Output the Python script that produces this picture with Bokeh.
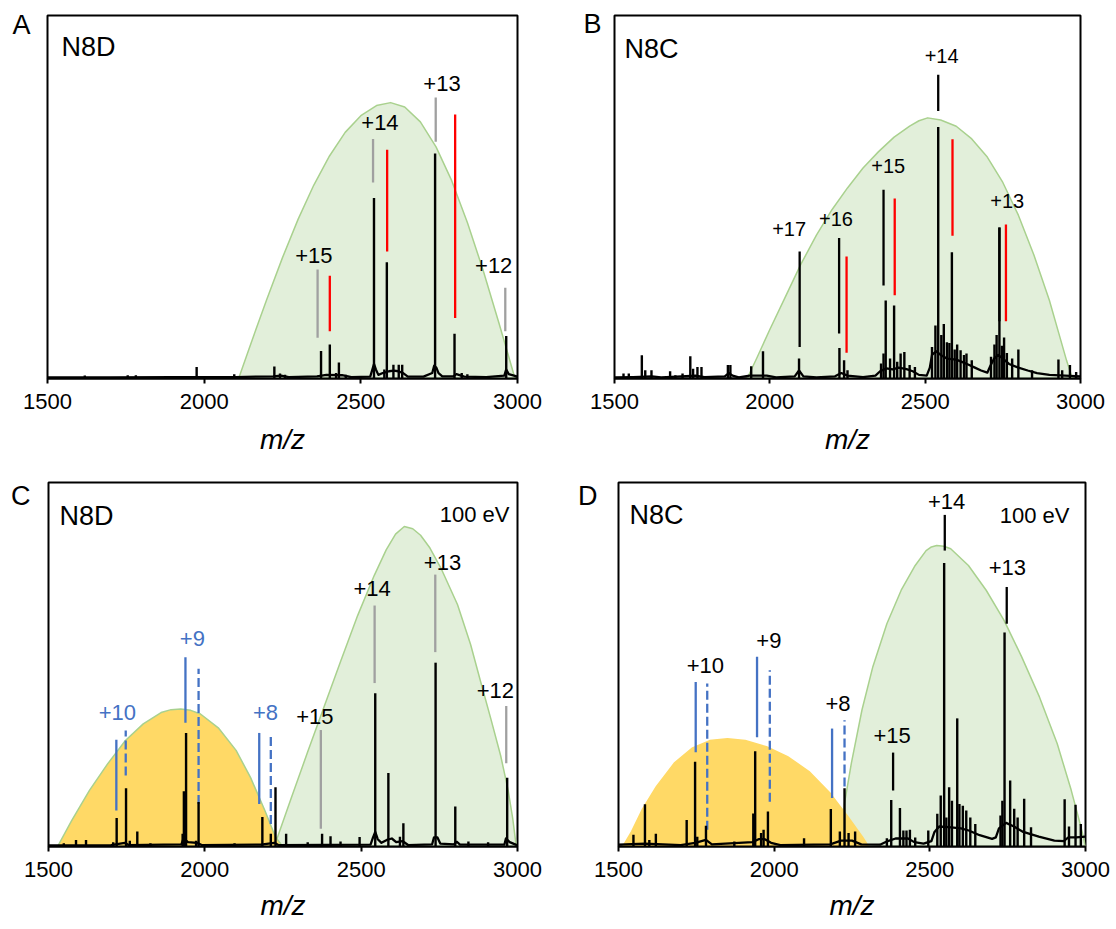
from bokeh.plotting import figure
from bokeh.models import Range1d, FixedTicker, Label
from bokeh.layouts import row, column
from bokeh.core.properties import value
from bokeh.embed import file_html
from bokeh.resources import INLINE

FONT = "Liberation Sans"
X_TICKS = [1500, 2000, 2500, 3000]
X_LABEL = "m/z"

GREEN_FILL = "#E2EFDA"
GREEN_LINE = "#A9D18E"
YELLOW_FILL = "#FFD966"
GRAY = "#A0A0A0"
RED = "#FF0000"
BLUE = "#4472C4"

# ---------------- Panel A : N8D ----------------
A_env_mz = [2110, 2140, 2170, 2200, 2250, 2300, 2350, 2400, 2450, 2500, 2550, 2595, 2640, 2690, 2740, 2790, 2840, 2890, 2940, 2970, 2992]
A_env_y = [0, 7.4, 14.7, 21.8, 33.3, 43.9, 53.3, 61.3, 67.8, 72.4, 75.2, 76, 74.8, 70.7, 63.8, 54.5, 43.0, 29.9, 15.5, 6.6, 0]
A_base_mz = [1500, 1700, 1900, 2100, 2220, 2245, 2270, 2360, 2390, 2440, 2470, 2530, 2537, 2542, 2548, 2556, 2570, 2590, 2605, 2620, 2635, 2650, 2700, 2728, 2734, 2741, 2748, 2760, 2795, 2805, 2830, 2900, 2958, 2964, 2972, 3000]
A_base_y = [0.3, 0.3, 0.4, 0.4, 0.6, 0.8, 0.4, 0.6, 1.0, 0.9, 0.4, 0.5, 2.5, 4.0, 2.5, 1.0, 1.5, 2.0, 2.2, 2.0, 1.5, 0.5, 0.5, 1.5, 3.5, 3.0, 1.5, 0.6, 0.6, 1.2, 0.5, 0.4, 0.8, 2.5, 1.2, 0.5]
A_peak_mz = [1619, 1756, 1782, 1876, 1976, 2096, 2224, 2242, 2258, 2373, 2401, 2421, 2430, 2452, 2542, 2575, 2583, 2604, 2621, 2632, 2737, 2799, 2822, 2840, 2964]
A_peak_h = [0.8, 0.9, 0.9, 0.6, 3.2, 1.2, 3.3, 1.4, 1.0, 7.6, 9.4, 1.5, 4.4, 1.0, 49.7, 2.5, 32.0, 3.8, 3.8, 3.8, 62.0, 12.3, 1.5, 1.2, 11.7]
A_gray_mz = [2362, 2539, 2739, 2961]
A_gray_top = [30, 66, 77.4, 25]
A_gray_bot = [11.2, 54, 65.2, 13]
A_red_mz = [2401, 2584, 2801]
A_red_top = [28.3, 63, 72.7]
A_red_bot = [13, 35, 16.7]
A_lab_mz = [2350, 2561, 2759, 2924]
A_lab_y = [34, 70.6, 81.4, 31.2]
A_lab_text = ["+15", "+14", "+13", "+12"]

# ---------------- Panel B : N8C ----------------
B_env_mz = [1927, 1960, 2000, 2050, 2100, 2150, 2200, 2250, 2300, 2350, 2400, 2450, 2480, 2508, 2550, 2600, 2650, 2700, 2750, 2800, 2850, 2900, 2930, 2955, 2972, 2978]
B_env_y = [0, 6, 13.5, 22.5, 31.5, 39.5, 46.5, 52.5, 58, 62.5, 66.5, 69.5, 71, 71.8, 71.2, 69.5, 66, 61, 54, 45, 34, 21.5, 12.5, 5, 0.5, 0]
B_base_mz = [1500, 1560, 1620, 1650, 1700, 1760, 1790, 1855, 1868, 1880, 1900, 1935, 1990, 2020, 2080, 2094, 2108, 2150, 2210, 2230, 2250, 2300, 2340, 2355, 2375, 2395, 2415, 2440, 2460, 2480, 2505, 2515, 2522, 2535, 2550, 2570, 2600, 2620, 2640, 2660, 2680, 2700, 2710, 2722, 2735, 2750, 2770, 2800, 2830, 2860, 2900, 2950, 3000]
B_base_y = [0.3, 0.4, 0.6, 0.3, 0.5, 0.8, 0.4, 0.6, 1.5, 0.8, 0.3, 0.8, 0.8, 0.3, 0.6, 2.2, 0.6, 0.3, 0.6, 1.5, 0.8, 0.4, 0.8, 2.0, 2.8, 2.5, 3.0, 2.6, 2.0, 1.0, 0.8, 3.0, 6.5, 7.5, 6.5, 5.5, 5.2, 4.5, 3.8, 3.0, 2.2, 1.6, 3.5, 5.5, 6.5, 5.5, 4.0, 3.0, 2.2, 1.5, 1.0, 0.8, 0.6]
B_peak_mz = [1529, 1546, 1588, 1599, 1619, 1679, 1696, 1719, 1744, 1753, 1767, 1780, 1865, 1873, 1940, 1978, 2094, 2224, 2239, 2250, 2358, 2366, 2373, 2387, 2400, 2410, 2421, 2433, 2450, 2467,
             2522, 2533, 2542, 2552, 2560, 2570, 2578, 2586, 2595, 2603, 2614, 2625, 2633, 2650,
             2712, 2723, 2730, 2739, 2747, 2754, 2763, 2780, 2800, 2844, 2929, 2941, 2966, 2986]
B_peak_h = [1.4, 1.4, 6.4, 2.3, 2.3, 2.0, 0.9, 1.4, 6.1, 2.7, 3.2, 3.2, 3.7, 3.7, 3.4, 7.5, 5.5, 8.4, 5.0, 2.3, 4.1, 6.9, 21.5, 5.5, 20.1, 4.6, 6.9, 7.3, 3.7, 3.2,
            8.7, 14.6, 69.3, 12.0, 15.0, 10.0, 9.8, 34.8, 8.0, 9.4, 7.8, 6.5, 6.9, 5.0,
            6.0, 9.4, 12.0, 41.6, 9.0, 11.3, 7.0, 5.5, 8.0, 2.3, 5.2, 2.3, 3.7, 1.8]
B_black_mz = [2096, 2223, 2366, 2542, 2739]
B_black_top = [35, 38.7, 52, 83.7, 41.6]
B_black_bot = [8.7, 12.4, 25.6, 73.7, 15.8]
B_red_mz = [2247, 2402, 2588, 2760]
B_red_top = [33.6, 49.6, 65.9, 42.4]
B_red_bot = [7.1, 22.9, 39.3, 15.8]
B_lab_mz = [2062, 2213, 2381, 2553, 2764]
B_lab_y = [41.2, 43.9, 58.6, 88.8, 49]
B_lab_text = ["+17", "+16", "+15", "+14", "+13"]

# ---------------- Panel C : N8D, 100 eV ----------------
C_yel_mz = [1529, 1574, 1631, 1689, 1746, 1803, 1860, 1892, 1923, 1955, 1986, 2043, 2100, 2146, 2192, 2226, 2249]
C_yel_y = [0, 7.1, 15.4, 22.7, 29.1, 33.7, 36.8, 37.6, 37.8, 37.4, 36.4, 32.6, 26.4, 19, 9.9, 2.6, 0]
C_env_mz = [2222, 2275, 2329, 2382, 2435, 2489, 2542, 2580, 2610, 2638, 2665, 2690, 2720, 2755, 2808, 2850, 2883, 2915, 2946, 2970, 2985, 2996]
C_env_y = [0, 13, 26, 38.5, 51, 63.5, 74.5, 81.5, 85.8, 87.9, 87.3, 85.5, 82, 76.5, 66.5, 55.5, 45, 35, 25, 15.5, 7.5, 0]
C_base_mz = [1500, 1700, 1744, 1756, 1925, 1932, 1946, 1975, 1990, 2180, 2222, 2235, 2530, 2538, 2545, 2553, 2565, 2582, 2598, 2612, 2632, 2650, 2727, 2733, 2744, 2753, 2796, 2806, 2816, 2958, 2963, 2975, 3000]
C_base_y = [0.3, 0.4, 1.0, 0.4, 0.6, 2.2, 1.2, 1.0, 0.4, 0.5, 1.0, 0.4, 0.5, 2.5, 4.0, 2.0, 1.0, 1.8, 2.2, 1.2, 1.5, 0.4, 0.6, 2.5, 2.5, 0.8, 0.6, 1.3, 0.5, 0.5, 2.2, 1.2, 0.3]
C_peak_mz = [1549, 1588, 1620, 1707, 1718, 1748, 1760, 1784, 1826, 1929, 1933, 1940, 1972, 1980, 2095, 2184, 2211, 2226, 2260, 2329, 2375, 2402, 2434, 2495, 2545, 2587, 2624, 2635, 2738, 2801, 2843, 2906, 2967]
C_peak_h = [0.9, 1.8, 1.8, 1.2, 7.8, 16.0, 1.6, 4.1, 0.9, 3.5, 15.2, 31.2, 1.6, 12.2, 0.9, 8.1, 3.5, 16.3, 3.5, 1.2, 3.5, 2.8, 1.4, 2.6, 42.1, 20.2, 2.7, 6.4, 50.5, 11.0, 1.4, 1.2, 18.9]
C_blue_mz = [1717, 1938, 2174]
C_blue_top = [29.3, 52, 31.2]
C_blue_bot = [9.9, 34, 11.7]
C_dash_mz = [1747, 1980, 2211]
C_dash_top = [31.9, 48.8, 31.2]
C_dash_bot = [19.5, 11.7, 6.2]
C_gray_mz = [2371, 2543, 2737, 2964]
C_gray_top = [32, 66.2, 74.7, 38.6]
C_gray_bot = [4.9, 44.9, 53.4, 22.9]
C_blab_mz = [1720, 1960, 2194]
C_blab_y = [36.7, 57.2, 36.9]
C_blab_text = ["+10", "+9", "+8"]
C_lab_mz = [2352, 2535, 2760, 2929]
C_lab_y = [35.8, 70.8, 77.9, 42.9]
C_lab_text = ["+15", "+14", "+13", "+12"]

# ---------------- Panel D : N8C, 100 eV ----------------
D_yel_mz = [1514, 1542, 1576, 1622, 1679, 1736, 1793, 1850, 1907, 1975, 2043, 2112, 2180, 2237, 2283, 2303]
D_yel_y = [0, 4.1, 10.1, 16.5, 22.9, 27, 29.1, 29.6, 29.1, 27.4, 24.7, 20.6, 14.6, 8.2, 2.7, 0]
D_env_mz = [2214, 2226, 2248, 2282, 2317, 2362, 2408, 2453, 2488, 2505, 2522, 2545, 2567, 2624, 2681, 2738, 2795, 2852, 2909, 2954, 2985, 3000]
D_env_y = [0, 11.9, 22.9, 37.5, 49.4, 61.2, 70.4, 77.2, 81.3, 82.3, 82.7, 82.5, 81.8, 77.2, 70.4, 62.2, 52.1, 41.1, 28.3, 15.5, 5.5, 0]
D_base_mz = [1500, 1585, 1700, 1746, 1781, 1800, 1930, 1950, 1970, 1990, 2020, 2180, 2215, 2250, 2280, 2340, 2365, 2390, 2430, 2450, 2480, 2505, 2515, 2530, 2560, 2600, 2625, 2660, 2700, 2712, 2722, 2745, 2770, 2800, 2850, 2900, 2930, 2945, 2970, 3000]
D_base_y = [0.5, 0.8, 0.4, 1.0, 1.8, 0.6, 1.2, 2.0, 2.0, 1.0, 0.4, 0.6, 1.6, 1.6, 0.6, 0.5, 1.5, 2.2, 2.2, 1.2, 0.8, 1.5, 4.0, 5.5, 5.3, 5.0, 4.4, 3.1, 2.1, 2.5, 5.0, 6.5, 5.5, 4.0, 2.7, 1.6, 1.5, 2.5, 2.5, 2.7]
D_peak_mz = [1548, 1585, 1599, 1620, 1719, 1746, 1753, 1781, 1872, 1933, 1939, 1958, 1966, 1980, 2096, 2182, 2211, 2226, 2239, 2260, 2362, 2376, 2404, 2415, 2425, 2436, 2453, 2495,
             2524, 2535, 2546, 2553, 2562, 2571, 2588, 2595, 2606, 2617, 2630, 2646,
             2727, 2733, 2740, 2758, 2771, 2782, 2803, 2825, 2933, 2947, 2968, 2985]
D_peak_h = [3.2, 11.6, 1.8, 3.5, 7.3, 23.3, 2.7, 5.7, 1.4, 9.1, 26.2, 3.7, 4.6, 9.6, 2.3, 10.3, 4.1, 16.0, 3.7, 4.1, 2.3, 12.8, 10.6, 4.4, 4.4, 4.6, 2.5, 4.4,
            9.0, 14.0, 77.9, 8.0, 16.3, 12.6, 35.2, 11.7, 11.2, 9.9, 8.0, 6.2,
            8.5, 12.6, 58.8, 18.1, 10.4, 8.0, 13.1, 5.3, 13.0, 5.5, 11.5, 6.2]
D_blue_mz = [1748, 1945, 2186]
D_blue_top = [45.2, 52.1, 32.4]
D_blue_bot = [25.9, 30.0, 13.3]
D_dash_mz = [1785, 1986, 2226]
D_dash_top = [44.8, 48.4, 34.7]
D_dash_bot = [4.6, 12.3, 16.5]
D_black_mz = [2382, 2548, 2747]
D_black_top = [25.8, 91.1, 71.3]
D_black_bot = [15.4, 81.3, 61.2]
D_lab_mz = [1779, 1983, 2205, 2379, 2554, 2749]
D_lab_y = [49.8, 56.7, 39.3, 30.6, 94.9, 76.6]
D_lab_text = ["+10", "+9", "+8", "+15", "+14", "+13"]

PANEL_LETTERS = ["A", "B", "C", "D"]
PANEL_NAMES = ["N8D", "N8C", "N8D", "N8C"]
ENERGY = "100 eV"


def make_fig(w, h, bl, br, bt, bb, letter, letter_y, letter_gap, label_gap):
    p = figure(width=w, height=h, x_range=Range1d(1500, 3000), y_range=Range1d(0, 100),
               output_backend="svg", toolbar_location=None, title=None,
               min_border_left=bl, min_border_right=br, min_border_top=bt, min_border_bottom=bb)
    p.xgrid.visible = False
    p.ygrid.visible = False
    p.outline_line_color = "black"
    p.outline_line_width = 2
    p.outline_line_alpha = 1
    p.background_fill_color = "white"
    p.border_fill_color = "white"
    ax = p.xaxis[0]
    ax.ticker = FixedTicker(ticks=X_TICKS)
    ax.axis_line_width = 2
    ax.axis_line_color = "black"
    ax.major_tick_line_width = 2
    ax.major_tick_line_color = "black"
    ax.major_tick_in = 0
    ax.major_tick_out = 5
    ax.minor_tick_line_color = None
    ax.major_label_text_font = FONT
    ax.major_label_text_font_size = "22px"
    ax.major_label_text_color = "black"
    ax.major_label_standoff = 10
    ax.axis_label = X_LABEL
    ax.axis_label_text_font = FONT
    ax.axis_label_text_font_style = "italic"
    ax.axis_label_text_font_size = "28px"
    ax.axis_label_text_color = "black"
    ax.axis_label_standoff = label_gap
    # the panel letter is shown as the single tick label of an otherwise hidden y axis
    yax = p.yaxis[0]
    yax.ticker = FixedTicker(ticks=[letter_y])
    yax.major_label_overrides = {letter_y: letter}
    yax.axis_line_color = None
    yax.major_tick_line_color = None
    yax.minor_tick_line_color = None
    yax.major_tick_in = 0
    yax.major_tick_out = 0
    yax.major_label_standoff = letter_gap
    yax.major_label_text_font = FONT
    yax.major_label_text_font_size = "27px"
    yax.major_label_text_color = "black"
    frame = {"fw": w - bl - br, "fh": h - bt - bb}
    return p, frame


def px_x(fr, px):
    return 1500 + px * 1500.0 / fr["fw"]


def px_y(fr, px):
    return 100 - px * 100.0 / fr["fh"]


def add_env(p, mz, y, fill, line):
    p.patch(mz, y, fill_color=fill, line_color=line, line_width=1.5, line_join="round")


def add_marks(p, mz, top, bot, color, dash="solid"):
    p.segment(x0=mz, y0=bot, x1=mz, y1=top, line_color=color, line_width=2.3, line_dash=dash)


def add_spectrum(p, bmz, by, pmz, ph):
    p.line(bmz, by, line_color="black", line_width=2.3, line_join="round")
    p.segment(x0=pmz, y0=[0] * len(pmz), x1=pmz, y1=ph, line_color="black", line_width=2.4)


def add_labels(p, mz, y, txt, color="black", size="22px"):
    p.text(x=mz, y=y, text=txt, text_align="center", text_baseline="middle",
           text_font=value(FONT), text_font_size=size, text_color=color)


def add_corner(p, fr, name, nx, nby, energy=None, ex=None, eby=None):
    p.add_layout(Label(x=px_x(fr, nx), y=px_y(fr, nby), text=name, text_font=FONT,
                       text_font_size="27px", text_align="left", text_baseline="alphabetic",
                       text_color="black"))
    if energy:
        p.add_layout(Label(x=px_x(fr, fr["fw"] - ex), y=px_y(fr, eby), text=energy, text_font=FONT,
                           text_font_size="22px", text_align="right", text_baseline="alphabetic",
                           text_color="black"))


# Panel A
pA, fA = make_fig(558, 465, 47, 41, 15, 84, PANEL_LETTERS[0], 97.5, 17, 12)
add_env(pA, A_env_mz, A_env_y, GREEN_FILL, GREEN_LINE)
add_marks(pA, A_gray_mz, A_gray_top, A_gray_bot, GRAY)
add_marks(pA, A_red_mz, A_red_top, A_red_bot, RED)
add_spectrum(pA, A_base_mz, A_base_y, A_peak_mz, A_peak_h)
add_labels(pA, A_lab_mz, A_lab_y, A_lab_text)
add_corner(pA, fA, PANEL_NAMES[0], 14, 32)

# Panel B
pB, fB = make_fig(558, 465, 56, 36, 14, 87, PANEL_LETTERS[1], 97.7, 13, 12)
add_env(pB, B_env_mz, B_env_y, GREEN_FILL, GREEN_LINE)
add_marks(pB, B_black_mz, B_black_top, B_black_bot, "black")
add_marks(pB, B_red_mz, B_red_top, B_red_bot, RED)
add_spectrum(pB, B_base_mz, B_base_y, B_peak_mz, B_peak_h)
add_labels(pB, B_lab_mz, B_lab_y, B_lab_text, size="20px")
add_corner(pB, fB, PANEL_NAMES[1], 10, 34)

# Panel C
pC, fC = make_fig(558, 464, 48, 41, 17, 83, PANEL_LETTERS[2], 96.4, 18, 10)
add_env(pC, C_env_mz, C_env_y, GREEN_FILL, GREEN_LINE)
add_env(pC, C_yel_mz, C_yel_y, YELLOW_FILL, GREEN_LINE)
add_marks(pC, C_blue_mz, C_blue_top, C_blue_bot, BLUE)
add_marks(pC, C_dash_mz, C_dash_top, C_dash_bot, BLUE, "9 4")
add_marks(pC, C_gray_mz, C_gray_top, C_gray_bot, GRAY)
add_spectrum(pC, C_base_mz, C_base_y, C_peak_mz, C_peak_h)
add_labels(pC, C_blab_mz, C_blab_y, C_blab_text, color=BLUE)
add_labels(pC, C_lab_mz, C_lab_y, C_lab_text)
add_corner(pC, fC, PANEL_NAMES[2], 11, 33, ENERGY, 8, 32)

# Panel D
pD, fD = make_fig(558, 464, 60, 31, 17, 82, PANEL_LETTERS[3], 96.4, 21, 10)
add_env(pD, D_env_mz, D_env_y, GREEN_FILL, GREEN_LINE)
add_env(pD, D_yel_mz, D_yel_y, YELLOW_FILL, YELLOW_FILL)
add_marks(pD, D_blue_mz, D_blue_top, D_blue_bot, BLUE)
add_marks(pD, D_dash_mz, D_dash_top, D_dash_bot, BLUE, "9 4")
add_marks(pD, D_black_mz, D_black_top, D_black_bot, "black")
add_spectrum(pD, D_base_mz, D_base_y, D_peak_mz, D_peak_h)
add_labels(pD, D_lab_mz, D_lab_y, D_lab_text)
add_corner(pD, fD, PANEL_NAMES[3], 11, 33, ENERGY, 16, 33)

layout = column(row(pA, pB), row(pC, pD))

open("out.html", "w").write(file_html(layout, INLINE))
